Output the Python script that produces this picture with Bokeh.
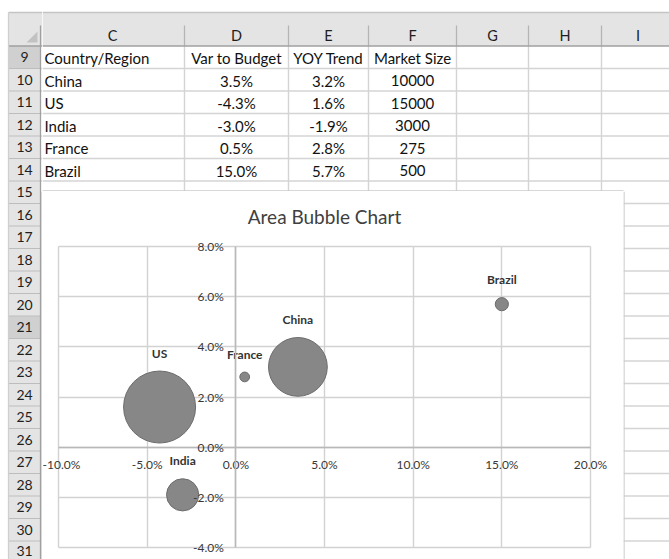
import math
from bokeh.plotting import figure
from bokeh.models import ColumnDataSource, Range1d, FixedTicker, PrintfTickFormatter, Label
from bokeh.layouts import row, column
from bokeh.core.properties import value
from bokeh.embed import file_html
from bokeh.resources import INLINE

# ---------------- data ----------------
countries = ["China", "US", "India", "France", "Brazil"]
var_to_budget = [3.5, -4.3, -3.0, 0.5, 15.0]      # percent
yoy_trend = [3.2, 1.6, -1.9, 2.8, 5.7]            # percent
market_size = [10000, 15000, 3000, 275, 500]
header_labels = ["Country/Region", "Var to Budget", "YOY Trend", "Market Size"]
col_letters = ["C", "D", "E", "F", "G", "H", "I"]
row_numbers = list(range(9, 32))
x_ticks = [-10, -5, 0, 5, 10, 15, 20]
y_ticks = [-4, -2, 0, 2, 4, 6, 8]
chart_title = "Area Bubble Chart"

# ---------------- layout (page pixels) ----------------
W, H = 669, 559
SHEET_LEFT = 8
HDR_TOP = 12
HDR_SEP_TOP = 25
HDR_BOTTOM = 45.5
ROWHDR_RIGHT = 40
COL_EDGES = [40, 184, 288, 368, 456, 528, 601, 674]
ROW_H = 22.5
CHART_L, CHART_R, CHART_T = 42, 623, 191          # chart area
PLOT_L, PLOT_R, PLOT_T, PLOT_B = 58, 590, 246, 547  # plot area
TITLE_Y = 216
ROWNUM_FS = 14

HDR_FILL = "#e4e4e4"
HDR_SEL = "#d0d0d0"
HDR_LINE = "#b4b4b4"
CELL_LINE = "#d4d4d4"
CHART_BORDER = "#cbcbcb"
FONT = value("Lato")


def row_top(r):
    return HDR_BOTTOM + (r - row_numbers[0]) * ROW_H


def sheet_fig(x0, x1, y0, y1):
    f = figure(width=x1 - x0, height=y1 - y0,
               x_range=Range1d(x0, x1), y_range=Range1d(y1, y0),
               x_axis_location=None, y_axis_location=None,
               output_backend="svg", toolbar_location=None, min_border=0)
    f.grid.visible = False
    f.outline_line_color = None
    f.background_fill_color = "white"
    f.border_fill_color = "white"
    return f


# ---------------- left strip: row headers ----------------
left = sheet_fig(0, CHART_L, 0, H)
left.quad(left=SHEET_LEFT, right=CHART_L, top=HDR_TOP, bottom=HDR_BOTTOM,
          fill_color=HDR_FILL, line_color=None)
left.quad(left=SHEET_LEFT, right=ROWHDR_RIGHT, top=HDR_BOTTOM, bottom=H,
          fill_color=HDR_FILL, line_color=None)
sel_rows = [9, 21]
left.quad(left=[SHEET_LEFT] * len(sel_rows), right=[ROWHDR_RIGHT] * len(sel_rows),
          top=[row_top(r) for r in sel_rows], bottom=[row_top(r) + ROW_H for r in sel_rows],
          fill_color=HDR_SEL, line_color=None)
rb = [row_top(r) + ROW_H for r in row_numbers]
left.segment(x0=[SHEET_LEFT] * len(rb), x1=[ROWHDR_RIGHT] * len(rb), y0=rb, y1=rb,
             line_color="#bdbdbd", line_width=1.2)
rb_top = [y for y in rb if y < CHART_T]
left.segment(x0=[ROWHDR_RIGHT] * len(rb_top), x1=[CHART_L] * len(rb_top), y0=rb_top, y1=rb_top,
             line_color=CELL_LINE, line_width=1.3)
left.segment(x0=[SHEET_LEFT, SHEET_LEFT, ROWHDR_RIGHT, SHEET_LEFT],
             x1=[CHART_L, CHART_L, ROWHDR_RIGHT, SHEET_LEFT],
             y0=[HDR_TOP, HDR_BOTTOM, HDR_SEP_TOP, HDR_TOP],
             y1=[HDR_TOP, HDR_BOTTOM, H, H],
             line_color=["#c4c4c4", "#a0a0a0", "#a0a0a0", "#cfcfcf"], line_width=1.3)
left.patch(x=[37, 37, 26], y=[31, 42, 42], fill_color="#c2c2c2", line_color=None)
# keep the last (partly visible) row number inside the page
rownum_y = [min(row_top(r) + ROW_H / 2, H - ROWNUM_FS * 0.62) for r in row_numbers]
left.text(x=[(SHEET_LEFT + ROWHDR_RIGHT) / 2] * len(row_numbers), y=rownum_y,
          text=[str(r) for r in row_numbers],
          text_align="center", text_baseline="middle", text_font=FONT,
          text_font_size=f"{ROWNUM_FS}px", text_color="#1e1e1e")
left.segment(x0=[CHART_L - 0.5], x1=[CHART_L - 0.5], y0=[CHART_T], y1=[H],
             line_color=CHART_BORDER, line_width=1.3)

# ---------------- top strip: column headers + table ----------------
top = sheet_fig(CHART_L, W, 0, CHART_T)
top.quad(left=CHART_L, right=W, top=HDR_TOP, bottom=HDR_BOTTOM,
         fill_color=HDR_FILL, line_color=None)
seps = COL_EDGES[1:-1]
top.segment(x0=seps, x1=seps, y0=[HDR_SEP_TOP] * len(seps), y1=[HDR_BOTTOM] * len(seps),
            line_color=HDR_LINE, line_width=1.3)
top.segment(x0=seps, x1=seps, y0=[HDR_BOTTOM] * len(seps), y1=[CHART_T] * len(seps),
            line_color=CELL_LINE, line_width=1.4)
top.segment(x0=[CHART_L] * len(rb_top), x1=[W] * len(rb_top), y0=rb_top, y1=rb_top,
            line_color=CELL_LINE, line_width=1.4)
top.segment(x0=[CHART_L, CHART_L], x1=[W, W], y0=[HDR_TOP, HDR_BOTTOM], y1=[HDR_TOP, HDR_BOTTOM],
            line_color=["#c4c4c4", "#a0a0a0"], line_width=1.3)
col_centers = [(COL_EDGES[i] + COL_EDGES[i + 1]) / 2 for i in range(len(col_letters))]
top.text(x=col_centers, y=[(HDR_SEP_TOP + HDR_BOTTOM) / 2] * len(col_letters), text=col_letters,
         text_align="center", text_baseline="middle", text_font=FONT,
         text_font_size="14.5px", text_color="#1e1e1e")

# table cells, built from the data arrays
rows_text = [header_labels] + [
    [countries[i], f"{var_to_budget[i]:.1f}%", f"{yoy_trend[i]:.1f}%", str(market_size[i])]
    for i in range(len(countries))
]
cell_x, cell_y, cell_t, cell_a = [], [], [], []
for ri, vals in enumerate(rows_text):
    ycen = row_top(row_numbers[ri]) + ROW_H / 2 + 1
    for ci, v in enumerate(vals):
        if ci == 0:
            cell_x.append(COL_EDGES[0] + 4)
            cell_a.append("left")
        else:
            cell_x.append(col_centers[ci])
            cell_a.append("center")
        cell_y.append(ycen)
        cell_t.append(v)
top.text(x=cell_x, y=cell_y, text=cell_t, text_align=cell_a, text_baseline="middle",
         text_font=FONT, text_font_size="15px", text_color="#111111")
top.segment(x0=[CHART_L], x1=[CHART_R], y0=[CHART_T - 0.5], y1=[CHART_T - 0.5],
            line_color=CHART_BORDER, line_width=1.3)

# ---------------- right strip ----------------
right = sheet_fig(CHART_R, W, CHART_T, H)
rb_bot = [y for y in rb if y > CHART_T]
right.segment(x0=[CHART_R] * len(rb_bot), x1=[W] * len(rb_bot), y0=rb_bot, y1=rb_bot,
              line_color=CELL_LINE, line_width=1.4)
right.segment(x0=[CHART_R + 0.5], x1=[CHART_R + 0.5], y0=[CHART_T], y1=[H],
              line_color=CHART_BORDER, line_width=1.3)

# ---------------- bubble chart ----------------
# The frame covers the whole chart area; grid and axes are bounded to the plot area.
x0, x1 = x_ticks[0], x_ticks[-1]
y0, y1 = y_ticks[0], y_ticks[-1]
sx = (PLOT_R - PLOT_L) / (x1 - x0)
sy = (PLOT_B - PLOT_T) / (y1 - y0)
xr = Range1d(x0 - (PLOT_L - CHART_L) / sx, x1 + (CHART_R - PLOT_R) / sx)
yr = Range1d(y0 - (H - PLOT_B) / sy, y1 + (PLOT_T - CHART_T) / sy)

BUBBLE_K = 0.588   # px of diameter per sqrt(market size): bubble AREA ~ market size
diam = [BUBBLE_K * math.sqrt(s) for s in market_size]
src = ColumnDataSource(dict(
    x=var_to_budget, y=yoy_trend, size=market_size, name=countries,
    diam=diam, dy=[-(d / 2 + 18) for d in diam],
))

p = figure(width=CHART_R - CHART_L, height=H - CHART_T, x_range=xr, y_range=yr,
           output_backend="svg", toolbar_location=None, min_border=0, title=None)
p.background_fill_color = "white"
p.border_fill_color = "white"
p.outline_line_color = None

xt = FixedTicker(ticks=x_ticks)
yt = FixedTicker(ticks=y_ticks)
p.xaxis.ticker = xt
p.yaxis.ticker = yt
p.xgrid.ticker = xt
p.ygrid.ticker = yt
p.xaxis.fixed_location = 0
p.yaxis.fixed_location = 0
p.xaxis.bounds = (x0, x1)
p.yaxis.bounds = (y0, y1)
p.xgrid.bounds = (x0, x1)
p.xgrid.cross_bounds = (y0, y1)
p.ygrid.bounds = (y0, y1)
p.ygrid.cross_bounds = (x0, x1)
for ax in (p.xaxis, p.yaxis):
    ax.formatter = PrintfTickFormatter(format="%.1f%%")
    ax.axis_line_color = "#b8b8b8"
    ax.axis_line_width = 1.5
    ax.major_tick_line_color = None
    ax.minor_tick_line_color = None
    ax.major_tick_out = 0
    ax.major_tick_in = 0
    ax.major_label_text_font = "Lato"
    ax.major_label_text_font_size = "12px"
    ax.major_label_text_color = "#383838"
p.xaxis.major_label_standoff = 10
p.yaxis.major_label_standoff = 12
p.grid.grid_line_color = "#d2d2d2"
p.grid.grid_line_width = 1.4

p.scatter("x", "y", size="diam", source=src, fill_color="#878787",
          line_color="#6c6c6c", line_width=1)
p.text("x", "y", text="name", y_offset="dy", source=src,
       text_align="center", text_baseline="middle", text_font=FONT,
       text_font_style="bold", text_font_size="12px", text_color="#333333")

p.add_layout(Label(x=(PLOT_L + PLOT_R) / 2 - CHART_L, y=H - TITLE_Y,
                   x_units="screen", y_units="screen", text=chart_title,
                   text_align="center", text_baseline="middle",
                   text_font="Lato", text_font_size="19px", text_color="#404040"))

layout = row(left, column(top, row(p, right)))
open("out.html", "w").write(file_html(layout, INLINE))
